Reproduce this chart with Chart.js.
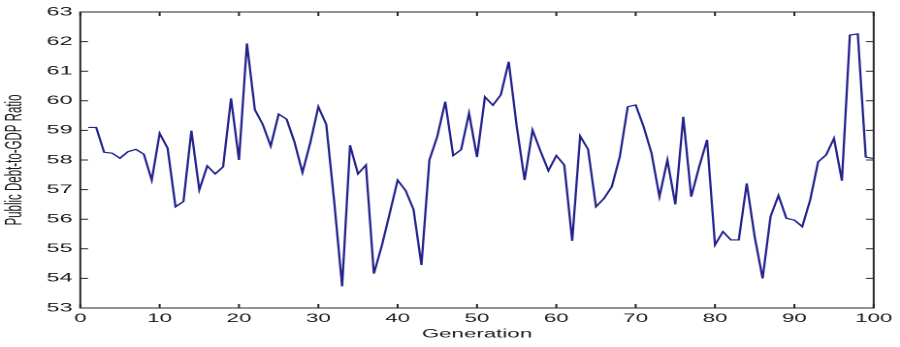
<!DOCTYPE html>
<html>
<head>
<meta charset="utf-8">
<title>Public Debt-to-GDP Ratio by Generation</title>
<script src="https://cdn.jsdelivr.net/npm/chart.js@4/dist/chart.umd.min.js"></script>
<style>
  html, body { margin: 0; padding: 0; background: #fff; overflow: hidden; }
  /* the source figure is stretched sideways, so draw narrow and widen it */
  #wrap { width: 464px; height: 347px; transform: scaleX(1.9397); transform-origin: 0 0; }
  #chart { width: 464px; height: 347px; }
</style>
</head>
<body>
<div id="wrap"><canvas id="chart" width="464" height="347"></canvas></div>
<script>
// generation number on the x axis
const generations = [
  1, 2, 3, 4, 5, 6, 7, 8, 9, 10,
  11, 12, 13, 14, 15, 16, 17, 18, 19, 20,
  21, 22, 23, 24, 25, 26, 27, 28, 29, 30,
  31, 32, 33, 34, 35, 36, 37, 38, 39, 40,
  41, 42, 43, 44, 45, 46, 47, 48, 49, 50,
  51, 52, 53, 54, 55, 56, 57, 58, 59, 60,
  61, 62, 63, 64, 65, 66, 67, 68, 69, 70,
  71, 72, 73, 74, 75, 76, 77, 78, 79, 80,
  81, 82, 83, 84, 85, 86, 87, 88, 89, 90,
  91, 92, 93, 94, 95, 96, 97, 98, 99, 100
];

// public debt-to-GDP ratio
const debtRatio = [
  59.10, 59.10, 58.26, 58.23, 58.06, 58.28, 58.36, 58.20, 57.32, 58.90,
  58.40, 56.42, 56.60, 58.99, 56.99, 57.80, 57.53, 57.77, 60.08, 58.00,
  61.94, 59.70, 59.20, 58.47, 59.55, 59.38, 58.60, 57.58, 58.60, 59.80,
  59.20, 56.60, 53.73, 58.50, 57.53, 57.83, 54.16, 55.10, 56.20, 57.32,
  56.97, 56.33, 54.45, 58.00, 58.80, 59.97, 58.15, 58.35, 59.58, 58.10,
  60.13, 59.85, 60.20, 61.32, 59.15, 57.32, 59.01, 58.30, 57.64, 58.15,
  57.83, 55.27, 58.81, 58.36, 56.42, 56.70, 57.10, 58.11, 59.80, 59.86,
  59.13, 58.23, 56.76, 58.00, 56.50, 59.46, 56.76, 57.77, 58.68, 55.13,
  55.58, 55.30, 55.30, 57.21, 55.41, 54.00, 56.09, 56.80, 56.03, 55.97,
  55.75, 56.65, 57.94, 58.17, 58.73, 57.30, 62.22, 62.26, 58.10, 58.05
];

const xMin = 0, xMax = 100, xStep = 10;
const yMin = 53, yMax = 63, yStep = 1;

const points = generations.map((g, i) => ({ x: g, y: debtRatio[i] }));

// box round the plot with short inward ticks on all four sides
const boxAxes = {
  id: 'boxAxes',
  afterDatasetsDraw(chart) {
    const { ctx, chartArea: a, scales: { x, y } } = chart;
    const len = 4;
    ctx.save();
    ctx.strokeStyle = '#262626';
    ctx.lineWidth = 1;
    ctx.beginPath();
    x.ticks.forEach(t => {
      const px = x.getPixelForValue(t.value);
      ctx.moveTo(px, a.bottom); ctx.lineTo(px, a.bottom - len);
      ctx.moveTo(px, a.top); ctx.lineTo(px, a.top + len);
    });
    y.ticks.forEach(t => {
      const py = y.getPixelForValue(t.value);
      ctx.moveTo(a.left, py); ctx.lineTo(a.left + len, py);
      ctx.moveTo(a.right, py); ctx.lineTo(a.right - len, py);
    });
    ctx.stroke();
    ctx.strokeRect(a.left, a.top, a.right - a.left, a.bottom - a.top);
    ctx.restore();
  }
};

const ctx = document.getElementById('chart').getContext('2d');
new Chart(ctx, {
  type: 'line',
  data: {
    datasets: [{
      data: points,
      borderColor: '#22228c',
      borderWidth: 1.15,
      pointRadius: 0,
      tension: 0,
      fill: false
    }]
  },
  options: {
    responsive: false,
    animation: false,
    devicePixelRatio: 2,
    layout: { padding: { top: 12, right: 11.7, bottom: 0, left: 0 } },
    plugins: {
      legend: { display: false },
      tooltip: { enabled: false }
    },
    scales: {
      x: {
        type: 'linear',
        min: xMin,
        max: xMax,
        grid: { display: false, drawTicks: false },
        border: { display: false },
        ticks: {
          stepSize: xStep,
          padding: 4,
          color: '#1a1a1a',
          maxRotation: 0,
          font: { family: 'Liberation Sans, Arial, sans-serif', size: 11.5 }
        },
        title: {
          display: true,
          text: 'Generation',
          color: '#1a1a1a',
          padding: { top: 0, bottom: 6 },
          font: { family: 'Liberation Sans, Arial, sans-serif', size: 11.5 }
        },
        afterFit: s => { s.height = 39; }
      },
      y: {
        min: yMin,
        max: yMax,
        grid: { display: false, drawTicks: false },
        border: { display: false },
        ticks: {
          stepSize: yStep,
          padding: 4,
          color: '#1a1a1a',
          font: { family: 'Liberation Sans, Arial, sans-serif', size: 12 }
        },
        title: {
          display: true,
          text: 'Public Debt-to-GDP Ratio',
          color: '#1a1a1a',
          padding: { top: 1, bottom: 0 },
          font: { family: 'Liberation Sans, Arial, sans-serif', size: 11.5 }
        },
        afterFit: s => { s.width = 41.4; }
      }
    }
  },
  plugins: [boxAxes]
});
</script>
</body>
</html>
